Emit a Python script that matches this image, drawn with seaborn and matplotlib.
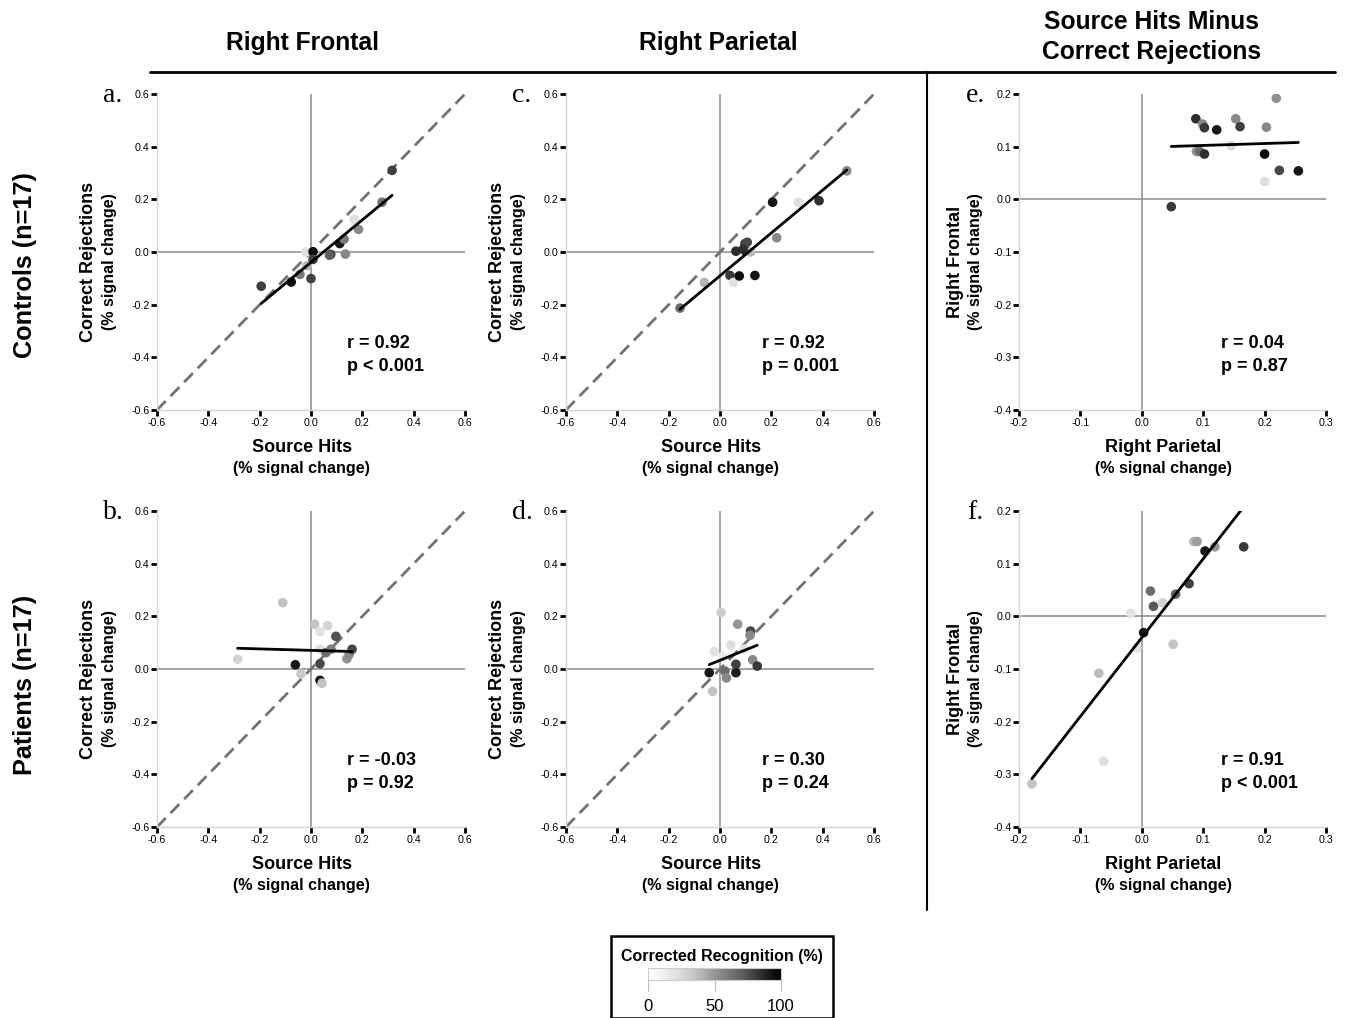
import numpy as np
import pandas as pd
import seaborn as sns
import matplotlib
matplotlib.use("Agg")
import matplotlib.pyplot as plt
from matplotlib.lines import Line2D
from matplotlib.patches import Rectangle
from matplotlib.ticker import FormatStrFormatter
from matplotlib.cm import ScalarMappable
from matplotlib.colors import Normalize

# ---------------- data ----------------
col_titles = ["Right Frontal", "Right Parietal", "Source Hits Minus\nCorrect Rejections"]
row_titles = ["Controls (n=17)", "Patients (n=17)"]

# a. Controls, Right Frontal
a_x = [-0.194, -0.077, -0.043, -0.021, -0.015, 0.008, 0.008, 0.000, 0.077, 0.112, 0.129, 0.134, 0.170, 0.185, 0.277, 0.316, 0.072]
a_y = [-0.130, -0.114, -0.085, 0.000, -0.052, 0.001, -0.028, -0.101, -0.009, 0.032, 0.049, -0.008, 0.123, 0.086, 0.189, 0.310, -0.012]
a_cr = [80, 95, 60, 20, 40, 95, 80, 80, 80, 92, 60, 55, 22, 55, 62, 80, 70]

# c. Controls, Right Parietal
c_x = [-0.156, -0.061, 0.039, 0.052, 0.062, 0.075, 0.097, 0.097, 0.106, 0.119, 0.136, 0.205, 0.221, 0.306, 0.386, 0.494, 0.090]
c_y = [-0.213, -0.116, -0.089, -0.116, 0.003, -0.091, 0.006, 0.032, 0.037, 0.000, -0.089, 0.189, 0.054, 0.189, 0.195, 0.308, 0.010]
c_cr = [65, 40, 82, 20, 85, 95, 95, 80, 78, 38, 92, 92, 55, 22, 85, 55, 85]

# e. Controls, Parietal vs Frontal difference
e_x = [0.048, 0.088, 0.089, 0.094, 0.099, 0.102, 0.102, 0.122, 0.146, 0.153, 0.160, 0.200, 0.203, 0.200, 0.219, 0.224, 0.255]
e_y = [-0.014, 0.153, 0.091, 0.091, 0.143, 0.136, 0.086, 0.132, 0.102, 0.153, 0.138, 0.086, 0.137, 0.034, 0.192, 0.055, 0.054]
e_cr = [82, 85, 50, 65, 55, 82, 85, 92, 25, 55, 80, 95, 55, 22, 52, 78, 92]

# b. Patients, Right Frontal
b_x = [-0.286, -0.110, -0.061, -0.039, 0.014, 0.035, 0.065, 0.035, 0.035, 0.035, 0.043, 0.058, 0.078, 0.097, 0.140, 0.149, 0.160]
b_y = [0.037, 0.252, 0.016, -0.019, 0.170, 0.141, 0.165, 0.075, 0.020, -0.043, -0.054, 0.062, 0.075, 0.124, 0.039, 0.056, 0.075]
b_cr = [28, 35, 92, 32, 35, 20, 28, 22, 78, 92, 35, 65, 58, 75, 52, 55, 78]

# d. Patients, Right Parietal
d_x = [-0.042, -0.029, -0.023, 0.004, 0.009, 0.019, 0.025, 0.042, 0.062, 0.062, 0.069, 0.094, 0.119, 0.117, 0.127, 0.145]
d_y = [-0.014, -0.085, 0.066, 0.215, 0.047, -0.008, -0.034, 0.091, 0.018, -0.014, 0.170, 0.076, 0.144, 0.128, 0.035, 0.011]
d_cr = [92, 35, 20, 30, 15, 65, 55, 22, 80, 90, 50, 22, 78, 55, 55, 82]

# f. Patients, Parietal vs Frontal difference
f_x = [-0.179, -0.070, -0.062, -0.018, -0.008, 0.003, 0.014, 0.019, 0.034, 0.051, 0.055, 0.077, 0.085, 0.090, 0.103, 0.119, 0.166]
f_y = [-0.318, -0.108, -0.275, 0.006, -0.060, -0.031, 0.048, 0.019, 0.026, -0.053, 0.042, 0.062, 0.142, 0.142, 0.124, 0.132, 0.132]
f_cr = [35, 38, 22, 20, 20, 92, 65, 72, 28, 35, 68, 80, 40, 48, 92, 50, 82]

stats_r = ["r = 0.92", "r = 0.92", "r = 0.04", "r = -0.03", "r = 0.30", "r = 0.91"]
stats_p = ["p < 0.001", "p = 0.001", "p = 0.87", "p = 0.92", "p = 0.24", "p < 0.001"]
letters = ["a.", "c.", "e.", "b.", "d.", "f."]

ticks_big = [-0.6, -0.4, -0.2, 0.0, 0.2, 0.4, 0.6]
ticks_dx = [-0.2, -0.1, 0.0, 0.1, 0.2, 0.3]
ticks_dy = [-0.4, -0.3, -0.2, -0.1, 0.0, 0.1, 0.2]
cbar_ticks = [0, 50, 100]

# ---------------- style ----------------
sns.set_style("white")
plt.rcParams["font.family"] = ["Liberation Sans", "DejaVu Sans"]
plt.rcParams["text.color"] = "black"
plt.rcParams["axes.labelcolor"] = "black"
plt.rcParams["xtick.color"] = "black"
plt.rcParams["ytick.color"] = "black"
plt.rcParams["xtick.labelcolor"] = "black"
plt.rcParams["ytick.labelcolor"] = "black"

W, H = 1347, 1018
fig = plt.figure(figsize=(W / 100, H / 100), dpi=100)


def fx(px):
    return px / W


def fy(py):
    return 1 - py / H


col_left = [157, 566, 1019]
col_w = [308, 308, 307]
row_top = [94, 511]
ax_h = 316

panels = [
    (a_x, a_y, a_cr), (c_x, c_y, c_cr), (e_x, e_y, e_cr),
    (b_x, b_y, b_cr), (d_x, d_y, d_cr), (f_x, f_y, f_cr),
]

for i, (xs, ys, cr) in enumerate(panels):
    r, c = divmod(i, 3)
    ax = fig.add_axes([fx(col_left[c]), fy(row_top[r] + ax_h), col_w[c] / W, ax_h / H])
    diff = c == 2
    if diff:
        xt, yt = ticks_dx, ticks_dy
        xlab, ylab = "Right Parietal", "Right Frontal"
    else:
        xt, yt = ticks_big, ticks_big
        xlab, ylab = "Source Hits", "Correct Rejections"
    xlim = (xt[0], xt[-1])
    ylim = (yt[0], yt[-1])

    ax.axhline(0, color="#8a8a8a", lw=1.1, zorder=1)
    ax.axvline(0, color="#8a8a8a", lw=1.1, zorder=1)
    if not diff:
        ax.axline((0, 0), slope=1, color="#737373", lw=2, ls=(0, (4.5, 2.5)), zorder=2)

    df = pd.DataFrame({"x": xs, "y": ys, "cr": cr})
    sns.regplot(data=df, x="x", y="y", ax=ax, scatter=False, ci=None, truncate=True,
                line_kws=dict(color="black", lw=2, zorder=4))
    sns.scatterplot(data=df, x="x", y="y", hue="cr", palette="Greys", hue_norm=(0, 100),
                    s=48, linewidth=0, legend=False, ax=ax, zorder=3)

    ax.set_xlim(*xlim)
    ax.set_ylim(*ylim)
    ax.set_xticks(xt)
    ax.set_yticks(yt)
    ax.xaxis.set_major_formatter(FormatStrFormatter("%.1f"))
    ax.yaxis.set_major_formatter(FormatStrFormatter("%.1f"))
    ax.tick_params(axis="both", direction="out", length=4, width=2, color="black",
                   labelcolor="black", labelsize=7.7, pad=1.5, bottom=True, left=True)
    for s in ["top", "right"]:
        ax.spines[s].set_visible(False)
    for s in ["left", "bottom"]:
        ax.spines[s].set_color("#d6d6d6")
        ax.spines[s].set_linewidth(1)
    ax.set_xlabel("")
    ax.set_ylabel("")

    # axis labels
    ax.text(0.47, -0.12, xlab, transform=ax.transAxes, ha="center", va="center",
            fontsize=13, fontweight="bold")
    ax.text(0.47, -0.184, "(% signal change)", transform=ax.transAxes, ha="center",
            va="center", fontsize=11.6, fontweight="bold")
    ylx1 = -0.208 if diff else -0.224
    ylx2 = -0.143 if diff else -0.153
    ax.text(ylx1, 0.47, ylab, transform=ax.transAxes, ha="center", va="center",
            rotation=90, fontsize=13, fontweight="bold")
    ax.text(ylx2, 0.47, "(% signal change)", transform=ax.transAxes, ha="center",
            va="center", rotation=90, fontsize=11.6, fontweight="bold")

    # stats
    sx = [0.617, 0.636, 0.658][c]
    ax.text(sx, 0.209, stats_r[i], transform=ax.transAxes, ha="left", va="center",
            fontsize=13, fontweight="bold")
    ax.text(sx, 0.139, stats_p[i], transform=ax.transAxes, ha="left", va="center",
            fontsize=13, fontweight="bold")

    # panel letter
    ax.text(-0.143, 0.995, letters[i], transform=ax.transAxes, ha="center", va="center",
            fontsize=20, family=["Liberation Serif", "DejaVu Serif"])

# column titles
fig.text(fx(302), fy(43), col_titles[0], ha="center", va="center", fontsize=17.7, fontweight="bold")
fig.text(fx(718), fy(43), col_titles[1], ha="center", va="center", fontsize=17.7, fontweight="bold")
fig.text(fx(1152), fy(37), col_titles[2], ha="center", va="center", fontsize=17.7,
         fontweight="bold", linespacing=1.3)

# row titles
fig.text(fx(25), fy(265), row_titles[0], ha="center", va="center", rotation=90,
         fontsize=18.2, fontweight="bold")
fig.text(fx(25), fy(685), row_titles[1], ha="center", va="center", rotation=90,
         fontsize=18.2, fontweight="bold")

# separators
fig.add_artist(Line2D([fx(150), fx(1335)], [fy(72), fy(72)], color="black", lw=2))
fig.add_artist(Line2D([fx(927), fx(927)], [fy(72), fy(910)], color="black", lw=1.5))

# colour legend box
fig.add_artist(Rectangle((fx(611), fy(1018)), (833 - 611) / W, (1018 - 936) / H,
                         transform=fig.transFigure, fill=False, edgecolor="black", lw=1.8))
fig.text(fx(722), fy(957), "Corrected Recognition (%)", ha="center", va="center",
         fontsize=11.5, fontweight="bold")
cax = fig.add_axes([fx(648), fy(980), 133 / W, 12 / H])
cb = fig.colorbar(ScalarMappable(norm=Normalize(0, 100), cmap="Greys"), cax=cax,
                  orientation="horizontal")
cb.set_ticks(cbar_ticks)
cb.set_ticklabels([str(t) for t in cbar_ticks])
cb.outline.set_edgecolor("#cccccc")
cb.outline.set_linewidth(0.8)
cax.tick_params(direction="out", length=8, width=0.8, color="#bbbbbb", labelcolor="black",
                labelsize=12, pad=6)

fig.savefig("out.png", dpi=100)
